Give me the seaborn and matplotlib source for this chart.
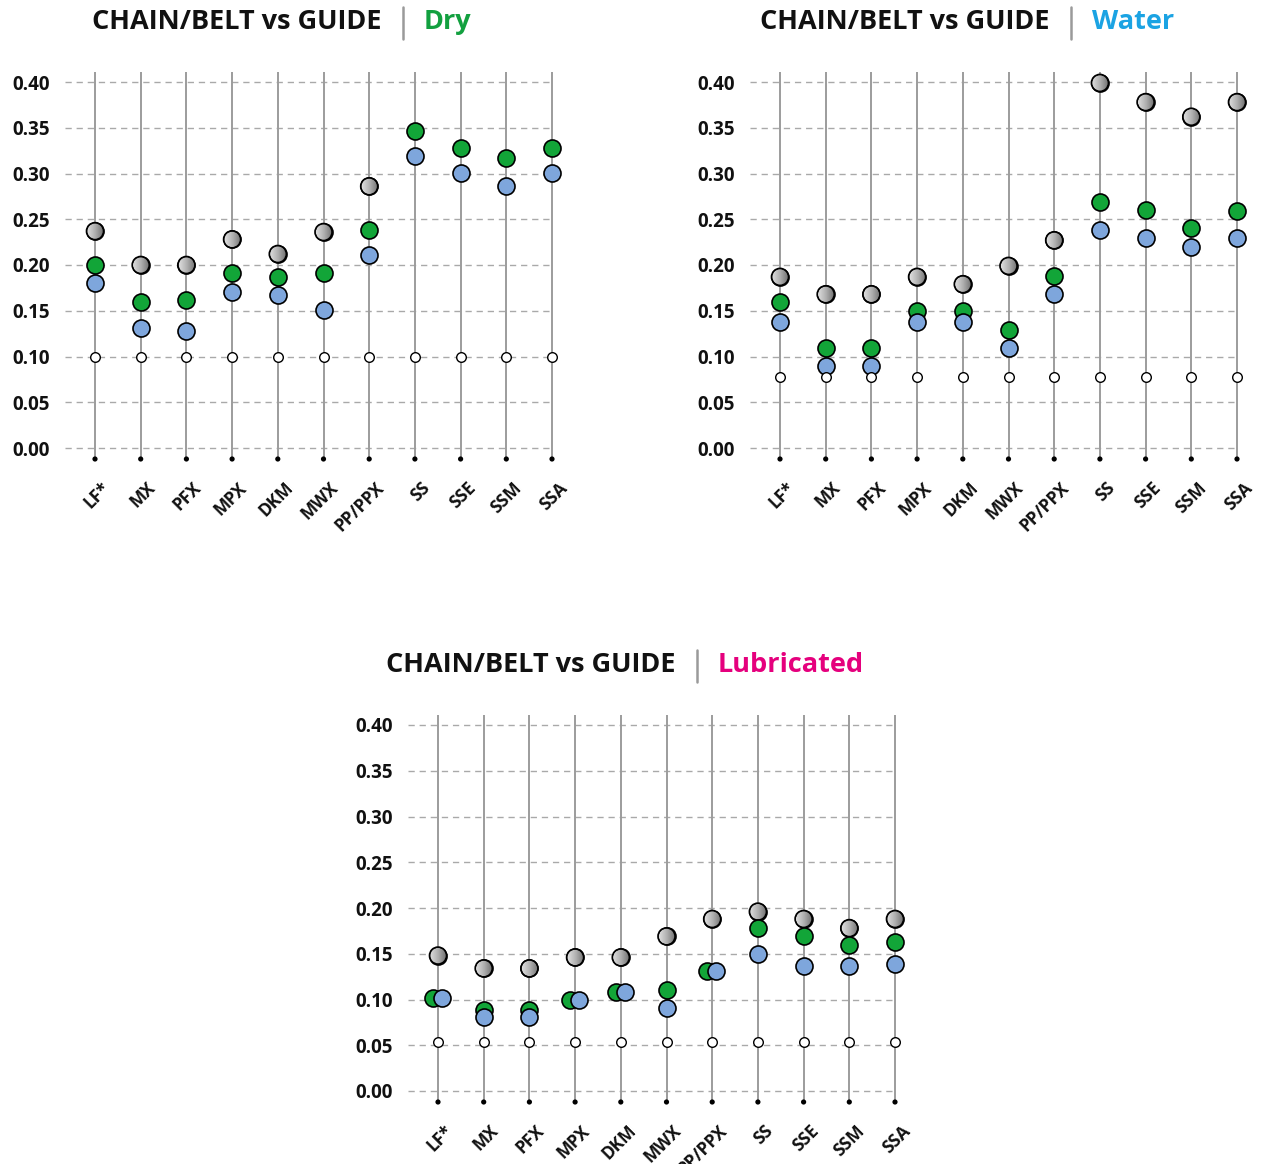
import numpy as np
import matplotlib
matplotlib.use("Agg")
import matplotlib.pyplot as plt
import seaborn as sns
from matplotlib.patches import Circle
from matplotlib.transforms import IdentityTransform
from matplotlib.colors import LinearSegmentedColormap
from matplotlib.lines import Line2D

# ---- data -------------------------------------------------------------
categories = ["LF*", "MX", "PFX", "MPX", "DKM", "MWX", "PP/PPX", "SS", "SSE", "SSM", "SSA"]
y_ticks = [0.00, 0.05, 0.10, 0.15, 0.20, 0.25, 0.30, 0.35, 0.40]
nan = np.nan

dry_grey = [0.237, 0.200, 0.200, 0.228, 0.212, 0.236, 0.286, nan, nan, nan, nan]
dry_green = [0.200, 0.160, 0.162, 0.191, 0.187, 0.191, 0.238, 0.346, 0.328, 0.317, 0.328]
dry_blue = [0.180, 0.131, 0.128, 0.170, 0.167, 0.151, 0.211, 0.319, 0.301, 0.286, 0.301]
dry_ref = [0.10] * 11

water_grey = [0.187, 0.168, 0.168, 0.187, 0.179, 0.199, 0.227, 0.399, 0.378, 0.362, 0.378]
water_green = [0.160, 0.109, 0.109, 0.150, 0.150, 0.129, 0.188, 0.269, 0.260, 0.240, 0.259]
water_blue = [0.138, 0.090, 0.090, 0.138, 0.138, 0.109, 0.168, 0.238, 0.230, 0.220, 0.230]
water_ref = [0.078] * 11

lub_grey = [0.148, 0.134, 0.134, 0.146, 0.146, 0.169, 0.188, 0.196, 0.188, 0.178, 0.188]
lub_green = [0.102, 0.089, 0.089, 0.100, 0.108, 0.110, 0.131, 0.178, 0.169, 0.160, 0.163]
lub_blue = [0.102, 0.081, 0.081, 0.100, 0.108, 0.091, 0.131, 0.150, 0.137, 0.137, 0.139]
lub_ref = [0.054] * 11

# ---- style ------------------------------------------------------------
sns.set_theme(style="white")
plt.rcParams["font.family"] = ["Open Sans", "DejaVu Sans"]

W, H = 1264, 1164
DPI = 100
fig = plt.figure(figsize=(W / DPI, H / DPI), dpi=DPI)
fig.patch.set_facecolor("white")

GREEN = "#12a538"
BLUE = "#7ea6dc"
GREY = "#a8a8a8"
GRID = "#a9a9a9"
STEM = "#9c9c9c"
grey_cmap = LinearSegmentedColormap.from_list("sphere", ["#e2e2e2", "#b0b0b0", "#6e6e6e"])

BIG_S = 150      # marker area (pt^2)
REF_S = 48
X_STEP = 45.7    # pixel spacing of categories
Y_SCALE = 915.0  # pixels per unit of y


def px_rect(left, top, w, h):
    return [left / W, 1 - (top + h) / H, w / W, h / H]


def draw_panel(first_px, zero_px, grey, green, blue, ref):
    ax_left = first_px - 30
    ax_top = zero_px - 0.40 * Y_SCALE - 22
    ax_w, ax_h = 520, 410
    ax = fig.add_axes(px_rect(ax_left, ax_top, ax_w, ax_h))
    x0 = (ax_left - first_px) / X_STEP
    x1 = (ax_left + ax_w - first_px) / X_STEP
    ytop = 0.40 + 22 / Y_SCALE
    ybot = ytop - ax_h / Y_SCALE
    ax.set_xlim(x0, x1)
    ax.set_ylim(ybot, ytop)
    ax.set_autoscale_on(False)
    for s in ax.spines.values():
        s.set_visible(False)
    ax.set_facecolor("none")

    xs = np.arange(len(categories), dtype=float)
    stem_bottom = -11 / Y_SCALE
    stem_top = 0.40 + 10 / Y_SCALE

    # dashed horizontal grid
    ax.hlines(y_ticks, x0, xs[-1], colors=GRID, linestyles=(0, (4.5, 3.5)),
              linewidth=1.0, zorder=1)
    # vertical stems and their foot dots
    ax.vlines(xs, stem_bottom, stem_top, colors=STEM, linewidth=1.4, zorder=2)
    sns.scatterplot(x=xs, y=[stem_bottom] * len(xs), ax=ax, color="black",
                    s=14, edgecolor="none", zorder=2.5, legend=False)

    green = np.asarray(green, float)
    blue = np.asarray(blue, float)
    same = np.isclose(green, blue)
    gx = xs - np.where(same, 0.11, 0.0)
    bx = xs + np.where(same, 0.09, 0.0)

    # grey spheres: base marker, then a left-to-right shaded fill clipped to the disc
    sns.scatterplot(x=xs, y=grey, ax=ax, color=GREY, s=BIG_S, edgecolor="black",
                    linewidth=1.2, zorder=3, legend=False)
    grad = np.linspace(0, 1, 64)[None, :]
    r_px = np.sqrt(BIG_S) / 2 * DPI / 72.0
    inv = ax.transData.inverted()
    for xv, yv in zip(xs, grey):
        if np.isnan(yv):
            continue
        cx, cy = ax.transData.transform((xv, yv))
        (ex0, ey0) = inv.transform((cx - r_px, cy - r_px))
        (ex1, ey1) = inv.transform((cx + r_px, cy + r_px))
        im = ax.imshow(grad, extent=[ex0, ex1, ey0, ey1], aspect="auto",
                       cmap=grey_cmap, interpolation="bilinear", zorder=3.1)
        im.set_clip_path(Circle((cx, cy), r_px - 0.7, transform=IdentityTransform()))
    sns.scatterplot(x=xs, y=grey, ax=ax, s=BIG_S, facecolor="none", edgecolor="black",
                    linewidth=1.2, zorder=3.2, legend=False)

    sns.scatterplot(x=gx, y=green, ax=ax, color=GREEN, s=BIG_S, edgecolor="black",
                    linewidth=1.2, zorder=4, legend=False)
    sns.scatterplot(x=bx, y=blue, ax=ax, color=BLUE, s=BIG_S, edgecolor="black",
                    linewidth=1.2, zorder=5, legend=False)
    sns.scatterplot(x=xs, y=ref, ax=ax, color="white", s=REF_S, edgecolor="black",
                    linewidth=1.0, zorder=6, legend=False)

    for c in ax.collections:
        c.set_clip_on(False)

    ax.set_xlim(x0, x1)
    ax.set_ylim(ybot, ytop)
    ax.set_xticks([])
    ax.set_yticks(y_ticks)
    ax.set_yticklabels([f"{v:.2f}" for v in y_ticks], fontsize=13.5, fontweight="bold",
                       color="#111111")
    ax.tick_params(axis="y", length=0, pad=11)
    ax.set_xlabel("")
    ax.set_ylabel("")

    for xv, lab in zip(xs, categories):
        ax.text(xv + 0.27, -37 / Y_SCALE, lab, rotation=45, rotation_mode="anchor",
                ha="right", va="center", fontsize=12.5, fontweight="bold",
                color="#111111", clip_on=False)
    return ax


def draw_title(right_px, y_px, word, color):
    fy = 1 - y_px / H
    fig.text(right_px / W, fy, "CHAIN/BELT vs GUIDE", ha="right", va="center",
             fontsize=19.5, fontweight="bold", color="#111111")
    fig.add_artist(Line2D([(right_px + 21) / W] * 2,
                          [1 - (y_px - 15) / H, 1 - (y_px + 17) / H],
                          color="#9a9a9a", linewidth=1.8))
    fig.text((right_px + 42) / W, fy, word, ha="left", va="center",
             fontsize=19.5, fontweight="bold", color=color)


draw_panel(95, 448, dry_grey, dry_green, dry_blue, dry_ref)
draw_panel(780, 448, water_grey, water_green, water_blue, water_ref)
draw_panel(438, 1091, lub_grey, lub_green, lub_blue, lub_ref)

draw_title(382, 22, "Dry", "#12a03f")
draw_title(1050, 22, "Water", "#1ba3e3")
draw_title(676, 665, "Lubricated", "#e5007d")

fig.savefig("out.png", dpi=DPI, facecolor="white")
